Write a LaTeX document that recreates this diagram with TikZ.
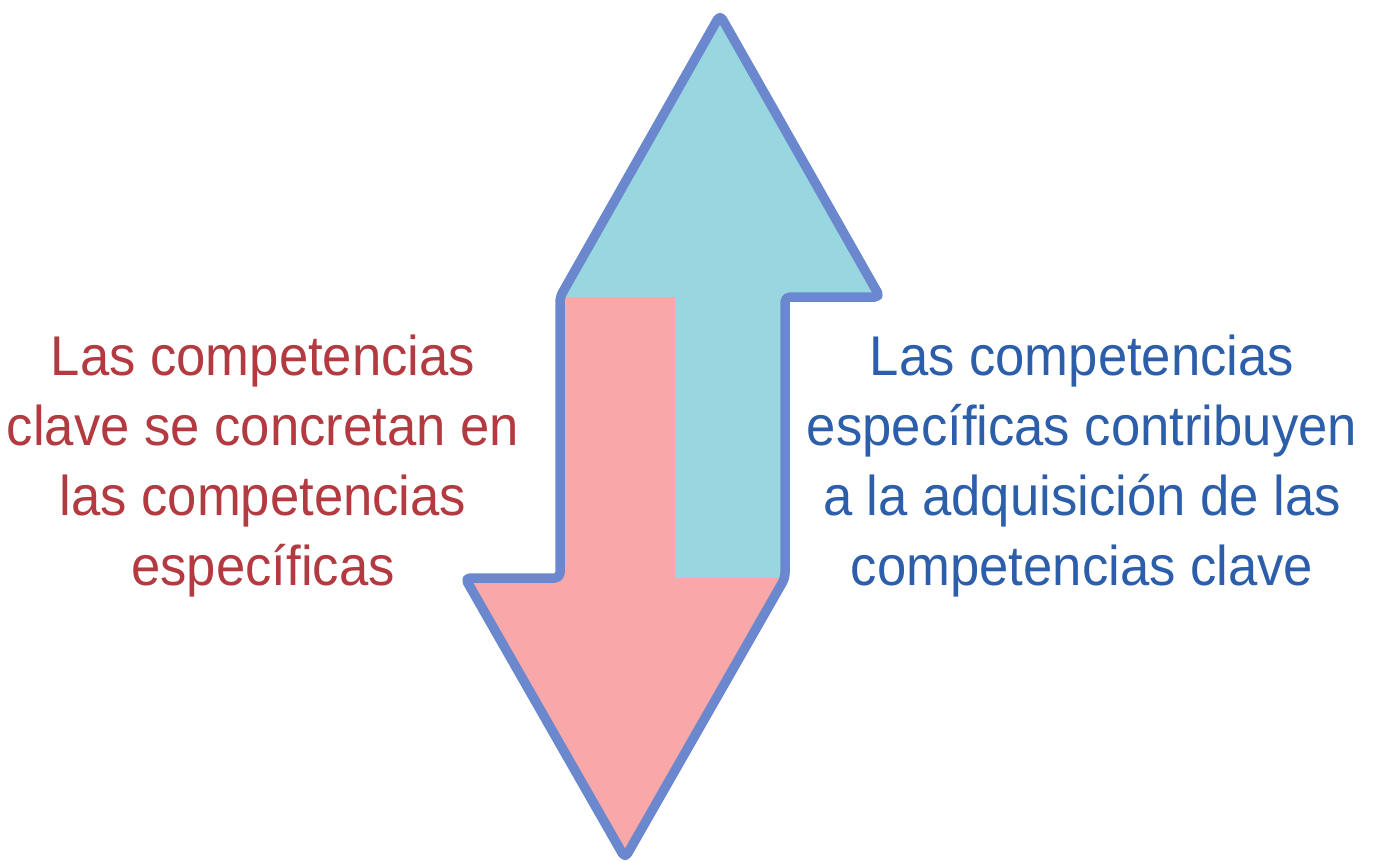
\documentclass[tikz,border=0pt]{standalone}
\usepackage{fontspec}
\setmainfont{Liberation Sans}[FakeStretch=0.94]
\definecolor{outlineblue}{RGB}{107,135,206}
\definecolor{cyanfill}{RGB}{152,215,224}
\definecolor{pinkfill}{RGB}{248,168,168}
\definecolor{redtext}{RGB}{179,58,64}
\definecolor{bluetext}{RGB}{44,94,170}
\tikzset{
  outline/.style={draw=outlineblue,line width=9.5pt,line join=round,rounded corners=5pt},
  label/.style={inner sep=0pt,align=center,font=\fontsize{56}{70}\selectfont}
}
\begin{document}
\begin{tikzpicture}[x=1pt,y=-1pt]
\useasboundingbox (0,0) rectangle (1376,861);
\coordinate (tipU) at (720,15);
\coordinate (hr) at (880,297);
\coordinate (sr) at (785,297);
\coordinate (dr) at (785,578);
\coordinate (tipD) at (625,858);
\coordinate (dl) at (465,578);
\coordinate (sl) at (560,578);
\coordinate (hl) at (560,297);
\coordinate (mt) at (675,297);
\coordinate (mb) at (675,578);
\fill[cyanfill] (tipU) -- (hr) -- (sr) -- (dr) -- (mb) -- (mt) -- (hl) -- cycle;
\fill[pinkfill] (hl) rectangle (mb);
\fill[pinkfill] (dl) -- (dr) -- (tipD) -- cycle;
\draw[outline] (tipU) -- (hr) -- (sr) -- (dr) -- (tipD) -- (dl) -- (sl) -- (hl) -- cycle;
\node[label,text=redtext] (left) at (263,466) {Las competencias\\clave se concretan en\\las competencias\\específicas};
\node[label,text=bluetext] (right) at (1082,466) {Las competencias\\específicas contribuyen\\a la adquisición de las\\competencias clave};
\end{tikzpicture}
\end{document}
